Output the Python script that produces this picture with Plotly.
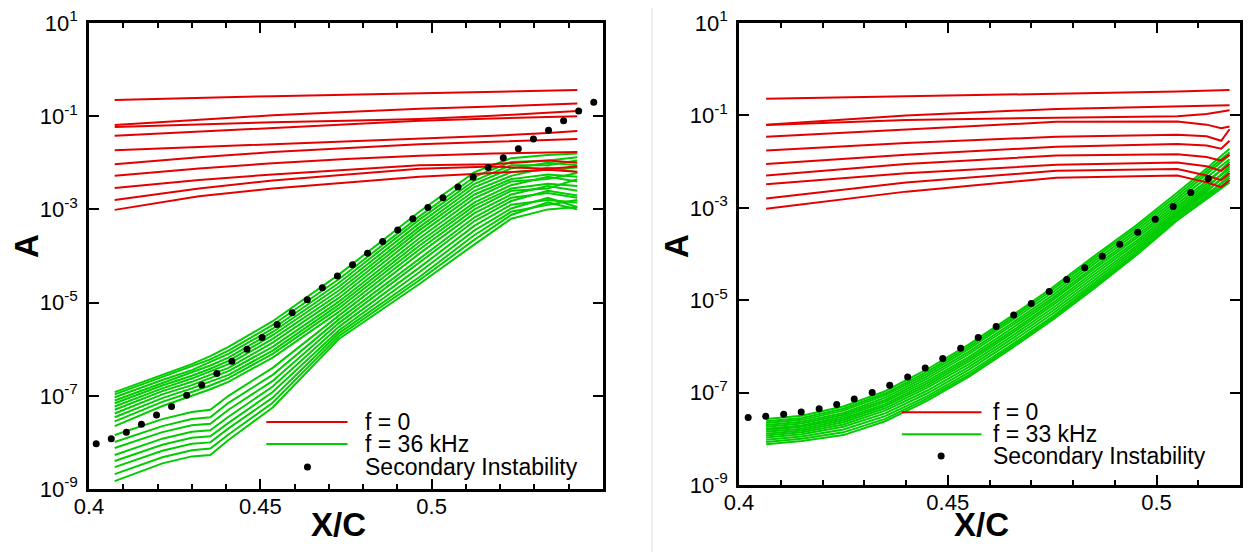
import numpy as np
import plotly.graph_objects as go

# ---------------- Left panel data (f = 36 kHz case) ----------------
red_x_left = [0.4075, 0.4321, 0.4536, 0.4750, 0.4964, 0.5179, 0.5339, 0.5425]
red_logA_left = [
    [-0.65, -0.60, -0.57, -0.54, -0.51, -0.48, -0.45, -0.44],
    [-1.19, -1.07, -0.98, -0.91, -0.84, -0.79, -0.75, -0.73],
    [-1.23, -1.17, -1.13, -1.10, -1.06, -0.99, -0.93, -0.89],
    [-1.42, -1.33, -1.25, -1.17, -1.10, -1.05, -1.02, -1.00],
    [-1.73, -1.66, -1.60, -1.55, -1.49, -1.42, -1.36, -1.32],
    [-2.03, -1.88, -1.77, -1.68, -1.60, -1.55, -1.51, -1.49],
    [-2.28, -2.12, -2.01, -1.92, -1.85, -1.80, -1.78, -1.77],
    [-2.54, -2.37, -2.25, -2.15, -2.05, -2.03, -1.95, -2.00],
    [-2.80, -2.55, -2.38, -2.25, -2.13, -2.08, -2.13, -2.08],
    [-3.01, -2.72, -2.55, -2.42, -2.30, -2.22, -2.15, -2.19],
]

green_x_left = [0.4075, 0.4214, 0.4300, 0.4354, 0.4407, 0.4536, 0.4729, 0.4964,
                0.5125, 0.5232, 0.5339, 0.5425]
green_logA_left = [
    [-6.92, -6.55, -6.32, -6.15, -5.95, -5.40, -4.40, -3.05, -2.20, -1.90, -1.83, -1.80],
    [-6.97, -6.60, -6.38, -6.22, -6.03, -5.48, -4.50, -3.15, -2.30, -1.98, -1.95, -1.88],
    [-7.03, -6.66, -6.45, -6.28, -6.10, -5.56, -4.58, -3.22, -2.38, -2.05, -2.05, -1.95],
    [-7.10, -6.72, -6.50, -6.35, -6.18, -5.63, -4.66, -3.30, -2.45, -2.12, -2.00, -2.05],
    [-7.16, -6.78, -6.57, -6.42, -6.25, -5.70, -4.74, -3.38, -2.52, -2.20, -2.15, -2.10],
    [-7.23, -6.84, -6.63, -6.48, -6.32, -5.78, -4.82, -3.45, -2.60, -2.28, -2.10, -2.20],
    [-7.30, -6.90, -6.70, -6.55, -6.40, -5.86, -4.90, -3.53, -2.68, -2.35, -2.25, -2.30],
    [-7.38, -6.97, -6.77, -6.62, -6.47, -5.95, -4.98, -3.62, -2.76, -2.40, -2.35, -2.22],
    [-7.46, -7.05, -6.84, -6.70, -6.55, -6.03, -5.05, -3.70, -2.85, -2.48, -2.30, -2.40],
    [-7.55, -7.13, -6.92, -6.78, -6.62, -6.10, -5.12, -3.78, -2.92, -2.55, -2.45, -2.50],
    [-7.65, -7.22, -7.00, -6.86, -6.70, -6.18, -5.20, -3.86, -3.00, -2.60, -2.55, -2.35],
    [-7.84, -7.50, -7.35, -7.30, -7.00, -6.40, -5.28, -3.95, -3.08, -2.68, -2.50, -2.60],
    [-7.99, -7.65, -7.50, -7.46, -7.15, -6.55, -5.36, -4.05, -3.17, -2.75, -2.65, -2.75],
    [-8.12, -7.78, -7.63, -7.60, -7.30, -6.68, -5.44, -4.15, -3.25, -2.82, -2.60, -2.70],
    [-8.27, -7.92, -7.77, -7.74, -7.45, -6.80, -5.52, -4.25, -3.35, -2.90, -2.80, -2.85],
    [-8.40, -8.05, -7.90, -7.87, -7.58, -6.92, -5.60, -4.35, -3.45, -2.98, -2.75, -2.95],
    [-8.53, -8.18, -8.03, -8.00, -7.70, -7.04, -5.66, -4.45, -3.55, -3.05, -2.90, -2.80],
    [-8.68, -8.32, -8.17, -8.13, -7.83, -7.15, -5.72, -4.52, -3.65, -3.12, -2.85, -3.00],
    [-8.83, -8.45, -8.30, -8.27, -7.95, -7.25, -5.78, -4.60, -3.75, -3.20, -3.00, -2.95],
]

si_x_left = [0.4021, 0.4065, 0.4109, 0.4153, 0.4197, 0.4241, 0.4285, 0.4329, 0.4373,
             0.4417, 0.4461, 0.4505, 0.4549, 0.4593, 0.4637, 0.4681, 0.4725, 0.4769,
             0.4813, 0.4857, 0.4901, 0.4945, 0.4989, 0.5033, 0.5077, 0.5121, 0.5165,
             0.5209, 0.5253, 0.5297, 0.5341, 0.5385, 0.5429, 0.5473]
si_logA_left = [-8.03, -7.92, -7.78, -7.61, -7.41, -7.23, -6.99, -6.77, -6.52,
                -6.26, -6.00, -5.75, -5.47, -5.22, -4.94, -4.68, -4.43, -4.19,
                -3.94, -3.69, -3.44, -3.20, -2.96, -2.75, -2.52, -2.31, -2.10,
                -1.89, -1.70, -1.49, -1.30, -1.10, -0.89, -0.70]

# ---------------- Right panel data (f = 33 kHz case) ----------------
red_x_right = [0.4065, 0.44, 0.476, 0.505, 0.512, 0.5155, 0.5175]
red_logA_right = [
    [-0.64, -0.58, -0.53, -0.48, -0.46, -0.45, -0.45],
    [-1.20, -1.00, -0.86, -0.81, -0.80, -0.79, -0.78],
    [-1.21, -1.10, -1.05, -1.02, -0.97, -0.92, -0.89],
    [-1.46, -1.30, -1.14, -1.13, -1.20, -1.28, -1.24],
    [-1.76, -1.60, -1.46, -1.42, -1.45, -1.55, -1.30],
    [-2.05, -1.85, -1.68, -1.62, -1.65, -1.72, -1.55],
    [-2.30, -2.05, -1.87, -1.84, -1.90, -1.98, -1.85],
    [-2.49, -2.25, -2.07, -2.02, -2.10, -2.20, -2.05],
    [-2.80, -2.45, -2.20, -2.16, -2.30, -2.40, -2.25],
    [-3.02, -2.65, -2.35, -2.30, -2.45, -2.55, -2.40],
]

green_x_right = [0.4065, 0.415, 0.425, 0.435, 0.445, 0.455, 0.465, 0.475, 0.485,
                 0.495, 0.505, 0.512, 0.5175]
green_logA_right = [
    [-7.57, -7.50, -7.30, -6.97, -6.50, -5.96, -5.36, -4.73, -4.05, -3.39, -2.67, -2.15, -1.72],
    [-7.62, -7.55, -7.35, -7.02, -6.55, -6.01, -5.41, -4.78, -4.10, -3.44, -2.73, -2.22, -1.80],
    [-7.66, -7.59, -7.39, -7.06, -6.60, -6.06, -5.46, -4.84, -4.16, -3.50, -2.79, -2.28, -1.86],
    [-7.70, -7.63, -7.44, -7.11, -6.65, -6.12, -5.52, -4.90, -4.22, -3.56, -2.85, -2.35, -1.95],
    [-7.74, -7.67, -7.48, -7.16, -6.70, -6.17, -5.57, -4.96, -4.28, -3.62, -2.91, -2.42, -2.05],
    [-7.78, -7.71, -7.52, -7.20, -6.75, -6.23, -5.63, -5.01, -4.33, -3.67, -2.97, -2.48, -2.00],
    [-7.81, -7.74, -7.56, -7.25, -6.80, -6.28, -5.69, -5.07, -4.39, -3.73, -3.02, -2.54, -2.15],
    [-7.85, -7.78, -7.60, -7.29, -6.85, -6.33, -5.74, -5.12, -4.45, -3.78, -3.07, -2.58, -2.10],
    [-7.89, -7.82, -7.64, -7.34, -6.90, -6.39, -5.80, -5.18, -4.51, -3.84, -3.11, -2.62, -2.25],
    [-7.93, -7.86, -7.69, -7.39, -6.96, -6.45, -5.86, -5.24, -4.57, -3.89, -3.15, -2.66, -2.20],
    [-7.97, -7.90, -7.74, -7.45, -7.02, -6.51, -5.92, -5.30, -4.63, -3.94, -3.19, -2.70, -2.35],
    [-8.02, -7.95, -7.80, -7.51, -7.08, -6.57, -5.98, -5.36, -4.68, -3.99, -3.23, -2.75, -2.30],
    [-8.07, -8.00, -7.86, -7.57, -7.13, -6.62, -6.02, -5.40, -4.72, -4.02, -3.25, -2.78, -2.40],
    [-8.12, -8.05, -7.92, -7.62, -7.18, -6.66, -6.06, -5.43, -4.75, -4.04, -3.27, -2.80, -2.45],
]

si_x_right = [0.4022, 0.4064, 0.4107, 0.4149, 0.4192, 0.4234, 0.4276, 0.4319, 0.4361,
              0.4404, 0.4446, 0.4488, 0.4531, 0.4573, 0.4616, 0.4658, 0.4700, 0.4743,
              0.4785, 0.4828, 0.4870, 0.4912, 0.4955, 0.4997, 0.5040, 0.5082, 0.5124]
si_logA_right = [-7.54, -7.51, -7.47, -7.42, -7.35, -7.26, -7.14, -7.00, -6.84,
                 -6.66, -6.47, -6.26, -6.04, -5.81, -5.57, -5.32, -5.07, -4.81,
                 -4.55, -4.30, -4.05, -3.79, -3.53, -3.25, -2.97, -2.67, -2.37]

y_tick_exps = [-9, -7, -5, -3, -1, 1]
x_tick_vals = [0.4, 0.45, 0.5]
x_tick_text = ["0.4", "0.45", "0.5"]
legend_labels_left = ["f = 0", "f = 36 kHz", "Secondary Instability"]
legend_labels_right = ["f = 0", "f = 33 kHz", "Secondary Instability"]

RED = "rgb(228,0,0)"
GREEN = "rgb(0,204,0)"
FONT = "Liberation Sans, Arial, sans-serif"

fig = go.Figure()

def add_panel(xa, ya, rx, rlog, gx, glog, sx, slog):
    for row in glog:
        fig.add_trace(go.Scatter(x=gx, y=np.power(10.0, row), mode="lines",
                                 line=dict(color=GREEN, width=2), xaxis=xa, yaxis=ya,
                                 showlegend=False, hoverinfo="skip"))
    for row in rlog:
        fig.add_trace(go.Scatter(x=rx, y=np.power(10.0, row), mode="lines",
                                 line=dict(color=RED, width=2), xaxis=xa, yaxis=ya,
                                 showlegend=False, hoverinfo="skip"))
    fig.add_trace(go.Scatter(x=sx, y=np.power(10.0, slog), mode="markers",
                             marker=dict(color="black", size=7), xaxis=xa, yaxis=ya,
                             showlegend=False, hoverinfo="skip"))

add_panel("x", "y", red_x_left, red_logA_left, green_x_left, green_logA_left,
          si_x_left, si_logA_left)
add_panel("x2", "y2", red_x_right, red_logA_right, green_x_right, green_logA_right,
          si_x_right, si_logA_right)

W, H = 1251, 552
# plot-area pixel boxes (left, right, top, bottom)
L_box = (81, 595, 15, 481)
R_box = (731, 1232, 15, 477)

def xdom(b):
    return [b[0] / W, b[1] / W]

def ydom(b):
    return [(H - b[3]) / H, (H - b[2]) / H]

y_tickvals = [10.0 ** e for e in y_tick_exps]
y_ticktext = ["10<sup>%d</sup>" % e for e in y_tick_exps]

def xaxis_cfg(b, rng, anchor):
    return dict(domain=xdom(b), range=rng, anchor=anchor, showline=True, linecolor="black",
                linewidth=2.5, mirror="allticks", ticks="inside", ticklen=10, tickwidth=2,
                tickcolor="black", tickvals=x_tick_vals, ticktext=x_tick_text,
                tickfont=dict(family=FONT, size=22, color="black"), automargin=False,
                ticklabeloverflow="allow", ticklabelstandoff=-4,
                minor=dict(dtick=0.01, tick0=0.4, ticks="inside", ticklen=5, tickwidth=1.5,
                           tickcolor="black", showgrid=False),
                showgrid=False, zeroline=False)

def yaxis_cfg(b, anchor):
    return dict(domain=ydom(b), type="log", range=[-9, 1], anchor=anchor, showline=True,
                linecolor="black", linewidth=2.5, mirror="allticks", ticks="inside",
                ticklen=10, tickwidth=2, tickcolor="black", tickvals=y_tickvals,
                ticktext=y_ticktext, tickfont=dict(family=FONT, size=22, color="black"),
                showgrid=False, zeroline=False, ticklabelstandoff=4, automargin=False,
                ticklabeloverflow="allow")

fig.update_layout(
    width=W, height=H, margin=dict(l=0, r=0, t=0, b=0, autoexpand=False),
    paper_bgcolor="white", plot_bgcolor="white", showlegend=False,
    xaxis=xaxis_cfg(L_box, [0.4, 0.55], "y"),
    yaxis=yaxis_cfg(L_box, "x"),
    xaxis2=xaxis_cfg(R_box, [0.4, 0.52], "y2"),
    yaxis2=yaxis_cfg(R_box, "x2"),
)

TITLE_FONT = dict(family=FONT, size=33, color="black", weight="bold")
# axis titles
for b in (L_box, R_box):
    fig.add_annotation(xref="paper", yref="paper", x=((b[0] + b[1]) / 2 - 8) / W,
                       y=(H - 516) / H, text="X/C", showarrow=False,
                       xanchor="center", yanchor="middle", font=TITLE_FONT)
    fig.add_annotation(xref="paper", yref="paper", x=(b[0] - 63) / W,
                       y=(H - (b[2] + 223)) / H, text="A", showarrow=False, textangle=-90,
                       xanchor="center", yanchor="middle", font=TITLE_FONT)

# manual legends (inside each panel)
def add_legend(xr, yr, labels, line_x0, line_x1, dot_x, text_x, rows_y):
    fig.add_shape(type="line", xref=xr, yref=yr, x0=line_x0, x1=line_x1,
                  y0=rows_y[0], y1=rows_y[0], line=dict(color=RED, width=2))
    fig.add_shape(type="line", xref=xr, yref=yr, x0=line_x0, x1=line_x1,
                  y0=rows_y[1], y1=rows_y[1], line=dict(color=GREEN, width=2))
    fig.add_shape(type="circle", xref=xr, yref=yr, xsizemode="pixel", ysizemode="pixel",
                  xanchor=dot_x, yanchor=rows_y[2], x0=-3.5, x1=3.5, y0=-3.5, y1=3.5,
                  fillcolor="black", line=dict(color="black", width=0))
    for lab, yy in zip(labels, rows_y):
        fig.add_annotation(xref=xr, yref=yr, x=text_x, y=yy, text=lab, showarrow=False,
                           xanchor="left", yanchor="middle",
                           font=dict(family=FONT, size=23, color="black"))

add_legend("x domain", "y domain", legend_labels_left, 0.345, 0.503, 0.425, 0.534,
           [0.1438, 0.0966, 0.047])
add_legend("x2 domain", "y2 domain", legend_labels_right, 0.325, 0.484, 0.4035, 0.502,
           [0.1577, 0.110, 0.0626])

# thin separator between the two panels
fig.add_shape(type="line", xref="paper", yref="paper", x0=644 / W, x1=644 / W, y0=0, y1=1,
              line=dict(color="rgb(225,225,225)", width=1))

fig.write_html("out.html")
